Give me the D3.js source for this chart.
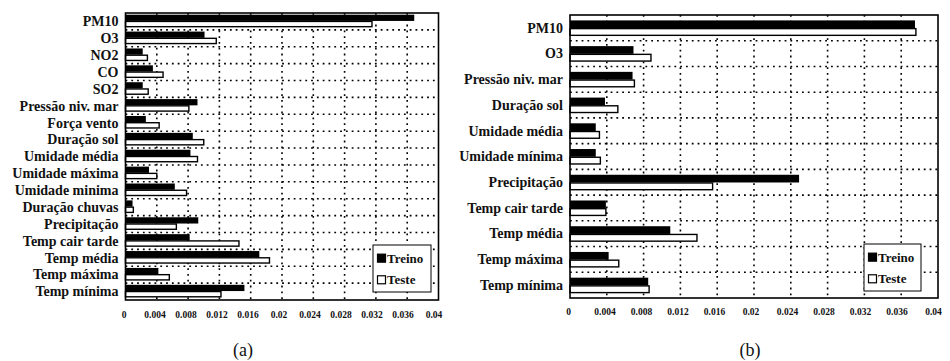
<!DOCTYPE html>
<html>
<head>
<meta charset="utf-8">
<script src="https://cdn.jsdelivr.net/npm/d3@7/dist/d3.min.js"></script>
<style>
  html, body { margin: 0; padding: 0; background: #fff; }
  svg { display: block; }
  text { font-family: "Liberation Serif", "Times New Roman", serif; }
</style>
</head>
<body>
<svg id="chart" width="950" height="361"></svg>
<script>
// Panel (a): all variables
const categoriesA = ["PM10", "O3", "NO2", "CO", "SO2", "Pressão niv. mar", "Força vento",
  "Duração sol", "Umidade média", "Umidade máxima", "Umidade minima", "Duração chuvas",
  "Precipitação", "Temp cair tarde", "Temp média", "Temp máxima", "Temp mínima"];
const treinoA = [0.0369, 0.0101, 0.0022, 0.0035, 0.0022, 0.0092, 0.0026,
  0.0086, 0.0083, 0.0030, 0.0063, 0.0009,
  0.0093, 0.0082, 0.0171, 0.0042, 0.0152];
const testeA = [0.0315, 0.0116, 0.0028, 0.0048, 0.0029, 0.0081, 0.0043,
  0.0100, 0.0092, 0.0040, 0.0078, 0.0010,
  0.0065, 0.0145, 0.0184, 0.0056, 0.0122];

// Panel (b): selected variables
const categoriesB = ["PM10", "O3", "Pressão niv. mar", "Duração sol", "Umidade média",
  "Umidade mínima", "Precipitação", "Temp cair tarde", "Temp média", "Temp máxima", "Temp mínima"];
const treinoB = [0.0375, 0.0069, 0.0068, 0.0038, 0.0028, 0.0028, 0.0249, 0.0039, 0.0109, 0.0042, 0.0085];
const testeB  = [0.0376, 0.0088, 0.0070, 0.0052, 0.0032, 0.0033, 0.0155, 0.0039, 0.0138, 0.0053, 0.0086];

// Shared x axis
const tickValues = [0, 0.004, 0.008, 0.012, 0.016, 0.02, 0.024, 0.028, 0.032, 0.036, 0.04];
const tickLabels = ["0", "0.004", "0.008", "0.012", "0.016", "0.02", "0.024", "0.028", "0.032", "0.036", "0.04"];
const seriesNames = ["Treino", "Teste"];
const caption = ["(a)", "(b)"];

const svg = d3.select("#chart");

function drawPanel(cfg) {
  const { cats, treino, teste, x0, x1, y0, y1, padTop, barFrac, legend, tickY, cap } = cfg;
  const g = svg.append("g");

  const x = d3.scaleLinear().domain([0, 0.04]).range([x0, x1]);
  const y = d3.scaleBand().domain(cats).range([y0, y1]).paddingInner(0).paddingOuter(0);
  const bw = y.bandwidth();

  // horizontal dotted separators between rows
  g.append("g").selectAll("line")
    .data(cats.slice(1))
    .join("line")
    .attr("x1", x0).attr("x2", x1)
    .attr("y1", d => y(d)).attr("y2", d => y(d))
    .attr("stroke", "#000").attr("stroke-width", 1.6)
    .attr("stroke-dasharray", "1.8,4");

  // vertical dotted grid at inner ticks
  g.append("g").selectAll("line")
    .data(tickValues.slice(1, -1))
    .join("line")
    .attr("x1", d => x(d)).attr("x2", d => x(d))
    .attr("y1", y0).attr("y2", y1)
    .attr("stroke", "#000").attr("stroke-width", 1.6)
    .attr("stroke-dasharray", "1.8,4");

  const h = bw * barFrac;
  // Treino bars (solid)
  g.append("g").selectAll("rect")
    .data(cats)
    .join("rect")
    .attr("x", x(0))
    .attr("y", d => y(d) + bw * padTop)
    .attr("width", (d, i) => x(treino[i]) - x(0))
    .attr("height", h)
    .attr("fill", "#000");
  // Teste bars (outlined)
  g.append("g").selectAll("rect")
    .data(cats)
    .join("rect")
    .attr("x", x(0))
    .attr("y", d => y(d) + bw * padTop + h + 0.5)
    .attr("width", (d, i) => x(teste[i]) - x(0))
    .attr("height", h - 1)
    .attr("fill", "#fff")
    .attr("stroke", "#000").attr("stroke-width", 1.4);

  // frame
  g.append("rect")
    .attr("x", x0).attr("y", y0)
    .attr("width", x1 - x0).attr("height", y1 - y0)
    .attr("fill", "none").attr("stroke", "#000").attr("stroke-width", 1.6);

  // category labels
  g.append("g").selectAll("text")
    .data(cats)
    .join("text")
    .attr("x", x0 - 7)
    .attr("y", d => y(d) + bw / 2 + 4.8)
    .attr("text-anchor", "end")
    .attr("font-weight", "bold")
    .attr("font-size", "14px")
    .attr("fill", "#111")
    .text(d => d);

  // x axis labels (no tick marks)
  const axis = d3.axisBottom(x)
    .tickValues(tickValues)
    .tickFormat((d, i) => tickLabels[i])
    .tickSize(0)
    .tickPadding(0);
  const ax = g.append("g").attr("transform", `translate(0,${tickY})`).call(axis);
  ax.select(".domain").remove();
  ax.selectAll("text")
    .attr("font-family", "Liberation Serif, serif")
    .attr("font-weight", "bold")
    .attr("font-size", "9.5px")
    .attr("fill", "#111")
    .attr("dy", 0)
    .attr("y", 0)
    .attr("dx", (d, i) => -2 - i * 0.3);

  // legend
  const lg = g.append("g");
  lg.append("rect")
    .attr("x", legend.x).attr("y", legend.y)
    .attr("width", legend.w).attr("height", legend.h)
    .attr("fill", "#fff").attr("stroke", "#000").attr("stroke-width", 1);
  seriesNames.forEach((name, i) => {
    const cy = legend.y + legend.h * (i === 0 ? 0.28 : 0.74);
    lg.append("rect")
      .attr("x", legend.x + 4.5).attr("y", cy - 4)
      .attr("width", 8).attr("height", 8)
      .attr("fill", i === 0 ? "#000" : "#fff")
      .attr("stroke", "#000").attr("stroke-width", 1.2);
    lg.append("text")
      .attr("x", legend.x + 14)
      .attr("y", cy + 4.5)
      .attr("font-weight", "bold")
      .attr("font-size", "13px")
      .attr("fill", "#111")
      .text(name);
  });

  // caption
  svg.append("text")
    .attr("x", cap.x).attr("y", cap.y)
    .attr("text-anchor", "middle")
    .attr("font-size", "18px")
    .attr("fill", "#111")
    .text(cap.t);
}

drawPanel({
  cats: categoriesA, treino: treinoA, teste: testeA,
  x0: 125.5, x1: 438.5, y0: 13, y1: 300,
  padTop: 0.1, barFrac: 0.37,
  legend: { x: 373, y: 245, w: 58, h: 47 },
  tickY: 318,
  cap: { x: 243, y: 356, t: caption[0] }
});

drawPanel({
  cats: categoriesB, treino: treinoB, teste: testeB,
  x0: 570, x1: 938, y0: 15, y1: 298,
  padTop: 0.21, barFrac: 0.30,
  legend: { x: 864, y: 244, w: 57, h: 47 },
  tickY: 315,
  cap: { x: 750, y: 356, t: caption[1] }
});
</script>
</body>
</html>
